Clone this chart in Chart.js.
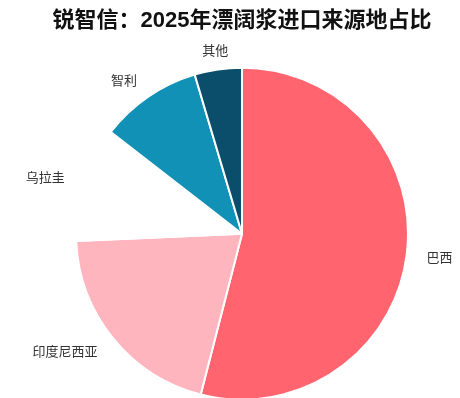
<!DOCTYPE html>
<html>
<head>
<meta charset="utf-8">
<script src="https://cdn.jsdelivr.net/npm/chart.js@4"></script>
<style>
    html, body { margin: 0; padding: 0; background: #fff; }
    #wrap { width: 460px; height: 398px; }
</style>
</head>
<body>
<div id="wrap"><canvas id="pieChart"></canvas></div>
<script>
const titleText = '锐智信：2025年漂阔浆进口来源地占比';
const origins = ['巴西', '印度尼西亚', '乌拉圭', '智利', '其他'];
const shares = [54.0, 20.3, 11.2, 9.9, 4.6];
const sliceColors = ['#ff646f', '#ffb5be', '#ffffff', '#1191b6', '#0b4e6b'];

// draw the country names outside each slice
const outsideLabels = {
    id: 'outsideLabels',
    afterDatasetsDraw(chart) {
        const ctx = chart.ctx;
        const meta = chart.getDatasetMeta(0);
        ctx.save();
        ctx.font = '13px "Noto Sans CJK SC", "Noto Sans", sans-serif';
        ctx.fillStyle = '#333';
        ctx.textBaseline = 'middle';
        meta.data.forEach((arc, i) => {
            const p = arc.getProps(['x', 'y', 'startAngle', 'endAngle', 'outerRadius'], true);
            const mid = (p.startAngle + p.endAngle) / 2;
            const d = p.outerRadius + 20;
            const dx = Math.cos(mid);
            const x = p.x + dx * d;
            const y = p.y + Math.sin(mid) * d;
            ctx.textAlign = dx > 0.3 ? 'left' : (dx < -0.3 ? 'right' : 'center');
            ctx.fillText(chart.data.labels[i], x, y);
        });
        ctx.restore();
    }
};

new Chart(document.getElementById('pieChart'), {
    type: 'pie',
    data: {
        labels: origins,
        datasets: [{
            data: shares,
            backgroundColor: sliceColors,
            borderColor: '#ffffff',
            borderWidth: 2,
            hoverOffset: 0
        }]
    },
    options: {
        responsive: true,
        maintainAspectRatio: false,
        animation: false,
        radius: 166,
        layout: {
            padding: { left: 24, right: 0, top: 0, bottom: 0 }
        },
        plugins: {
            legend: { display: false },
            tooltip: { enabled: false },
            title: {
                display: true,
                text: titleText,
                color: '#111',
                font: { family: '"Liberation Sans", "Noto Sans CJK SC", sans-serif', size: 22, weight: 'bold' },
                padding: { top: 8, bottom: 35 }
            }
        }
    },
    plugins: [outsideLabels]
});
</script>
</body>
</html>
